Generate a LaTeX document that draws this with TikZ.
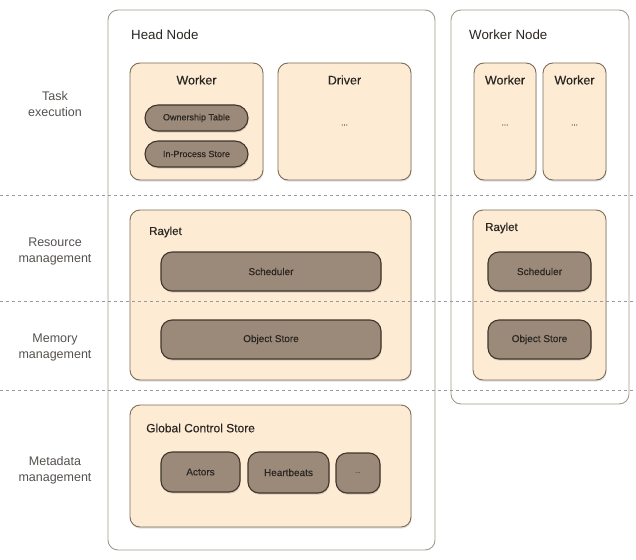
\documentclass[tikz,border=0pt]{standalone}
\usepackage{fontspec}
\setmainfont{Liberation Sans}
\newfontfamily\mediumfont[FakeBold=0.35]{Liberation Sans}
\usetikzlibrary{shadows}
\definecolor{hostline}{HTML}{A39A8E}
\definecolor{boxfill}{HTML}{FDEBD3}
\definecolor{boxline}{HTML}{7D6C5A}
\definecolor{pillfill}{HTML}{9B8A79}
\definecolor{pillline}{HTML}{40362C}
\definecolor{inktext}{HTML}{2A2622}
\definecolor{sepline}{HTML}{9A9A9A}

\begin{document}
\begin{tikzpicture}[x=1pt, y=-1pt,
  hostnode/.style={rectangle, rounded corners=10pt, draw=hostline, line width=0.9pt, fill=white, inner sep=0pt},
  procnode/.style={rectangle, rounded corners=10pt, draw=boxline, line width=0.9pt, fill=boxfill, inner sep=0pt,
    drop shadow={opacity=0.25, shadow xshift=0.6pt, shadow yshift=-1.6pt}},
  pillnode/.style={rectangle, rounded corners=11pt, draw=pillline, line width=1.1pt, fill=pillfill, inner sep=0pt,
    text=inktext, font=\mediumfont\fontsize{10}{12}\selectfont,
    drop shadow={opacity=0.3, shadow xshift=0.6pt, shadow yshift=-1.6pt}},
  titletext/.style={text=inktext, inner sep=0pt, font=\mediumfont\fontsize{12.5}{14}\selectfont},
  layertext/.style={text=inktext!80, align=center, inner sep=0pt, font=\fontsize{12.5}{16}\selectfont},
  separator/.style={draw=sepline, line width=0.7pt, dash pattern=on 3pt off 3pt},
  ]
\useasboundingbox (0,0) rectangle (636,559);

% machines
\node[hostnode, minimum width=327pt, minimum height=540pt] (head) at (271.5,280) {};
\node[hostnode, minimum width=178pt, minimum height=394pt] (wnode) at (540,207) {};
\node[titletext, anchor=west, font=\fontsize{13.3}{15}\selectfont] (headtitle) at (131,35) {Head Node};
\node[titletext, anchor=west, font=\fontsize{13.3}{15}\selectfont] (wnodetitle) at (469,35) {Worker Node};

% task execution
\node[procnode, minimum width=133pt, minimum height=117pt] (hworker) at (196.5,121.5) {};
\node[titletext] (hworkertitle) at (196.5,80) {Worker};
\node[pillnode, rounded corners=13pt, minimum width=103pt, minimum height=26pt, font=\mediumfont\fontsize{9}{10}\selectfont] (owntable) at (196.5,118) {Ownership Table};
\node[pillnode, rounded corners=13pt, minimum width=103pt, minimum height=26pt, font=\mediumfont\fontsize{9}{10}\selectfont] (inproc) at (196.5,154) {In-Process Store};

\node[procnode, minimum width=133pt, minimum height=117pt] (driver) at (344.5,121.5) {};
\node[titletext] (drivertitle) at (344.5,80) {Driver};
\node[titletext, font=\mediumfont\fontsize{8}{9}\selectfont] (driverdots) at (344.5,125) {...};

\node[procnode, minimum width=62pt, minimum height=117pt] (wworkera) at (505,121.5) {};
\node[titletext] (wworkeratitle) at (505,80) {Worker};
\node[titletext, font=\mediumfont\fontsize{8}{9}\selectfont] (wworkeradots) at (505,125) {...};
\node[procnode, minimum width=63pt, minimum height=117pt] (wworkerb) at (574.5,121.5) {};
\node[titletext] (wworkerbtitle) at (574.5,80) {Worker};
\node[titletext, font=\mediumfont\fontsize{8}{9}\selectfont] (wworkerbdots) at (574.5,125) {...};

% raylets
\node[procnode, minimum width=281pt, minimum height=170pt] (hraylet) at (270.5,295) {};
\node[titletext, anchor=west, font=\mediumfont\fontsize{11.5}{13}\selectfont] (hraylettitle) at (149,232) {Raylet};
\node[pillnode, minimum width=220pt, minimum height=39pt] (hsched) at (271,271.5) {Scheduler};
\node[pillnode, minimum width=220pt, minimum height=39pt] (hobj) at (271,339.5) {Object Store};

\node[procnode, minimum width=133pt, minimum height=170pt] (wraylet) at (539.5,295) {};
\node[titletext, anchor=west, font=\mediumfont\fontsize{11.5}{13}\selectfont] (wraylettitle) at (485,228) {Raylet};
\node[pillnode, minimum width=103pt, minimum height=39pt] (wsched) at (539.5,271.5) {Scheduler};
\node[pillnode, minimum width=103pt, minimum height=39pt] (wobj) at (539.5,339.5) {Object Store};

% metadata
\node[procnode, minimum width=281pt, minimum height=122pt] (gcs) at (270.5,466) {};
\node[titletext, anchor=west, font=\mediumfont\fontsize{12}{14}\selectfont] (gcstitle) at (146,428) {Global Control Store};
\node[pillnode, minimum width=79pt, minimum height=40pt] (actors) at (200.5,472) {Actors};
\node[pillnode, minimum width=81pt, minimum height=41pt] (beats) at (288.5,472.5) {Heartbeats};
\node[pillnode, minimum width=44pt, minimum height=40pt, font=\fontsize{7}{8}\selectfont] (gcsdots) at (358,473) {...};

% layers
\node[layertext] (tasklbl) at (55,104) {Task\\execution};
\node[layertext] (reslbl) at (55,251) {Resource\\management};
\node[layertext] (memlbl) at (55,347) {Memory\\management};
\node[layertext] (metalbl) at (55,470) {Metadata\\management};

\coordinate (sepaw) at (0,195);
\coordinate (sepae) at (636,195);
\coordinate (sepbw) at (0,301);
\coordinate (sepbe) at (636,301);
\coordinate (sepcw) at (0,390);
\coordinate (sepce) at (636,390);
\draw[separator] (sepaw) -- (sepae);
\draw[separator] (sepbw) -- (sepbe);
\draw[separator] (sepcw) -- (sepce);

\end{tikzpicture}
\end{document}
